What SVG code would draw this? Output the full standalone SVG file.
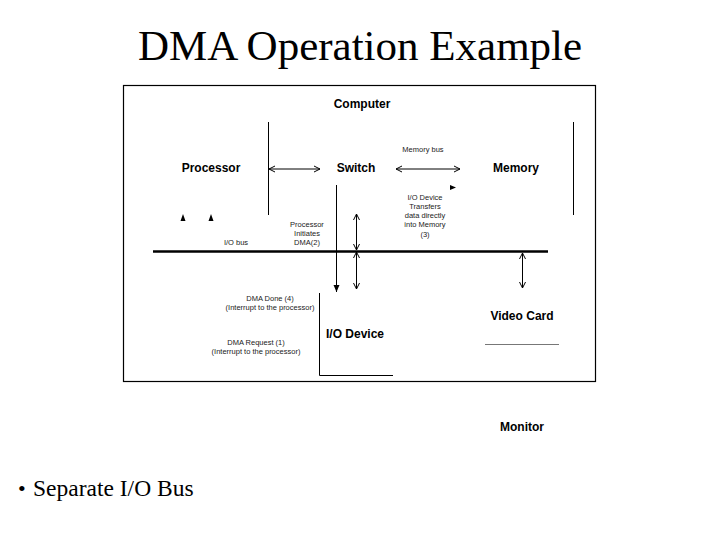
<svg xmlns="http://www.w3.org/2000/svg" width="720" height="540" viewBox="0 0 720 540">
<style>
.t{font-family:"Liberation Serif",serif;fill:#000}
.b{font-family:"Liberation Sans",Arial,sans-serif;font-weight:bold;font-size:12px;fill:#000}
.s{font-family:"Liberation Sans",Arial,sans-serif;font-size:7.5px;fill:#222}
.l{stroke:#000;stroke-width:1;fill:none}
.g{stroke:#777;stroke-width:1;fill:none}
</style>
<defs>
<marker id="o" markerWidth="8" markerHeight="8" refX="7" refY="4" orient="auto-start-reverse" markerUnits="userSpaceOnUse"><path d="M1,1 L7,4 L1,7" fill="none" stroke="#000"/></marker>
<marker id="f" markerWidth="8" markerHeight="8" refX="7" refY="4" orient="auto" markerUnits="userSpaceOnUse"><path d="M0,1 L7,4 L0,7 Z" fill="#000"/></marker>
</defs>
<rect width="720" height="540" fill="#fff"/>
<text class="t" x="360" y="60" font-size="43" text-anchor="middle">DMA Operation Example</text>
<rect x="123.5" y="85.5" width="472" height="296" fill="none" stroke="#000" stroke-width="1.2"/>
<g id="computer"><text class="b" x="362" y="108" text-anchor="middle">Computer</text></g>
<g id="processor"><text class="b" x="211" y="172" text-anchor="middle">Processor</text>
<path d="M183,214 l-2.5,7 h5 Z M211,214 l-2.5,7 h5 Z" fill="#000"/></g>
<g id="switch"><text class="b" x="356" y="172" text-anchor="middle">Switch</text></g>
<g id="memory"><text class="b" x="516" y="172" text-anchor="middle">Memory</text></g>
<g id="iodevice"><text class="b" x="355" y="338" text-anchor="middle">I/O Device</text>
<path class="l" d="M319.5,293 V375.5 H393"/></g>
<g id="videocard"><text class="b" x="522" y="320" text-anchor="middle">Video Card</text>
<path class="g" d="M485,344.5 H559"/></g>
<g id="monitor"><text class="b" x="522" y="431" text-anchor="middle">Monitor</text></g>
<g id="connectors">
<path class="l" d="M268.5,122 V215 M573.5,122 V215"/>
<path class="l" d="M269,169 H320" marker-start="url(#o)" marker-end="url(#o)"/>
<path class="l" d="M396,169 H460" marker-start="url(#o)" marker-end="url(#o)"/>
<path d="M450,185 l6,2.5 l-6,2.5 Z" fill="#000"/>
<path d="M153,251.5 H548" stroke="#000" stroke-width="2.5"/>
<path class="l" d="M336.5,185 V292" marker-end="url(#f)"/>
<path class="l" d="M356.5,214 V250" marker-start="url(#o)" marker-end="url(#o)"/>
<path class="l" d="M356.5,252 V289" marker-start="url(#o)" marker-end="url(#o)"/>
<path class="l" d="M522.5,253 V288" marker-start="url(#o)" marker-end="url(#o)"/>
</g>
<text class="s" x="236" y="245" text-anchor="middle" font-size="9.5">I/O bus</text>
<text class="s" x="423" y="152" text-anchor="middle" font-size="9">Memory bus</text>
<text class="s" x="307" y="227" text-anchor="middle">Processor</text>
<text class="s" x="307" y="236" text-anchor="middle">Initiates</text>
<text class="s" x="307" y="245" text-anchor="middle">DMA(2)</text>
<text class="s" x="425" y="200" text-anchor="middle">I/O Device</text>
<text class="s" x="425" y="209" text-anchor="middle">Transfers</text>
<text class="s" x="425" y="218" text-anchor="middle">data directly</text>
<text class="s" x="425" y="227" text-anchor="middle">into Memory</text>
<text class="s" x="425" y="237" text-anchor="middle">(3)</text>
<text class="s" x="270" y="301" text-anchor="middle">DMA Done (4)</text>
<text class="s" x="270" y="310" text-anchor="middle">(Interrupt to the processor)</text>
<text class="s" x="256" y="345" text-anchor="middle">DMA Request (1)</text>
<text class="s" x="256" y="354" text-anchor="middle">(Interrupt to the processor)</text>
<text class="t" x="18" y="496" font-size="22">•</text>
<text class="t" x="33" y="496" font-size="23.5">Separate I/O Bus</text>
</svg>
